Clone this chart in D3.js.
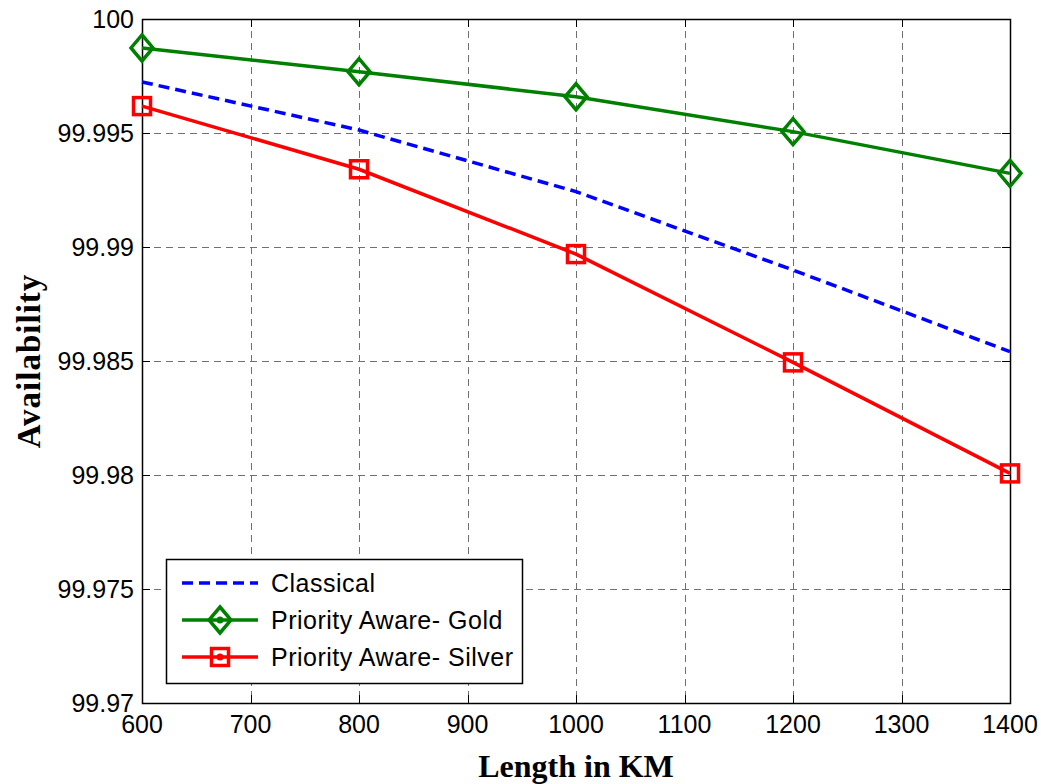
<!DOCTYPE html>
<html lang="en">
<head>
<meta charset="utf-8">
<title>Availability vs Length</title>
<style>
  body { margin: 0; background: #fff; }
  svg { display: block; }
</style>
</head>
<body>
<svg width="1041" height="784"></svg>
<script src="https://cdn.jsdelivr.net/npm/d3@7"></script>
<script>
// data
const lengths = [600, 800, 1000, 1200, 1400];
const classical = [99.99724, 99.99513, 99.99243, 99.98899, 99.98541];
const gold = [99.99873, 99.99769, 99.99659, 99.99506, 99.99323];
const silver = [99.99618, 99.99341, 99.98969, 99.98494, 99.98007];

const xTicks = [600, 700, 800, 900, 1000, 1100, 1200, 1300, 1400];
const yTicks = [99.97, 99.975, 99.98, 99.985, 99.99, 99.995, 100];
const yTickLabels = ["99.97", "99.975", "99.98", "99.985", "99.99", "99.995", "100"];
const seriesNames = ["Classical", "Priority Aware- Gold", "Priority Aware- Silver"];

const svg = d3.select("svg");
const plotL = 142, plotR = 1010, plotT = 19, plotB = 703;
const sans = "Arial, 'Liberation Sans', sans-serif";
const serif = "'Times New Roman', 'Liberation Serif', serif";

const x = d3.scaleLinear().domain([600, 1400]).range([plotL, plotR]);
const y = d3.scaleLinear().domain([99.97, 100]).range([plotB, plotT]);

// grid
const grid = svg.append("g")
    .attr("stroke", "#707070")
    .attr("stroke-width", 1)
    .attr("stroke-dasharray", "7,5");
grid.selectAll("line.vx")
    .data(xTicks.slice(1, -1))
    .join("line")
    .attr("x1", d => Math.round(x(d)) + 0.5).attr("x2", d => Math.round(x(d)) + 0.5)
    .attr("y1", plotT).attr("y2", plotB);
grid.selectAll("line.hy")
    .data(yTicks.slice(1, -1))
    .join("line")
    .attr("y1", d => Math.round(y(d)) + 0.5).attr("y2", d => Math.round(y(d)) + 0.5)
    .attr("x1", plotL).attr("x2", plotR);

// inward ticks on all four sides
const ticks = svg.append("g").attr("stroke", "#000").attr("stroke-width", 1);
xTicks.forEach(t => {
    const px = Math.round(x(t)) + 0.5;
    ticks.append("line").attr("x1", px).attr("x2", px).attr("y1", plotB).attr("y2", plotB - 8);
    ticks.append("line").attr("x1", px).attr("x2", px).attr("y1", plotT).attr("y2", plotT + 8);
});
yTicks.forEach(t => {
    const py = Math.round(y(t)) + 0.5;
    ticks.append("line").attr("y1", py).attr("y2", py).attr("x1", plotL).attr("x2", plotL + 8);
    ticks.append("line").attr("y1", py).attr("y2", py).attr("x1", plotR).attr("x2", plotR - 8);
});

// frame
svg.append("rect")
    .attr("x", plotL + 0.5).attr("y", plotT + 0.5)
    .attr("width", plotR - plotL).attr("height", plotB - plotT)
    .attr("fill", "none").attr("stroke", "#000").attr("stroke-width", 1.5);

// tick labels
svg.append("g").selectAll("text")
    .data(xTicks)
    .join("text")
    .attr("x", d => x(d)).attr("y", 733)
    .attr("text-anchor", "middle")
    .attr("font-family", sans).attr("font-size", 25)
    .text(d => d);
svg.append("g").selectAll("text")
    .data(yTicks)
    .join("text")
    .attr("x", 134).attr("y", d => y(d))
    .attr("dy", "0.35em")
    .attr("text-anchor", "end")
    .attr("font-family", sans).attr("font-size", 25)
    .text((d, i) => yTickLabels[i]);

// axis titles
svg.append("text")
    .attr("x", (plotL + plotR) / 2).attr("y", 777)
    .attr("text-anchor", "middle")
    .attr("font-family", serif).attr("font-weight", "bold").attr("font-size", 32)
    .text("Length in KM");
svg.append("text")
    .attr("transform", `translate(40,${(plotT + plotB) / 2}) rotate(-90)`)
    .attr("text-anchor", "middle")
    .attr("font-family", serif).attr("font-weight", "bold").attr("font-size", 33)
    .attr("letter-spacing", 1)
    .text("Availability");

// lines
const line = d3.line().x((d, i) => x(lengths[i])).y(d => y(d));
svg.append("path").datum(classical)
    .attr("d", line).attr("fill", "none")
    .attr("stroke", "#0000ff").attr("stroke-width", 3.5).attr("stroke-dasharray", "11,6");
svg.append("path").datum(gold)
    .attr("d", line).attr("fill", "none")
    .attr("stroke", "#008000").attr("stroke-width", 3.5);
svg.append("path").datum(silver)
    .attr("d", line).attr("fill", "none")
    .attr("stroke", "#ff0000").attr("stroke-width", 3.5);

function diamond(g, cx, cy) {
    g.append("path")
        .attr("d", `M${cx},${cy - 13}L${cx + 11},${cy}L${cx},${cy + 13}L${cx - 11},${cy}Z`)
        .attr("fill", "none").attr("stroke", "#008000").attr("stroke-width", 3.5);
}
function square(g, cx, cy) {
    g.append("rect")
        .attr("x", cx - 8.5).attr("y", cy - 8.5).attr("width", 17).attr("height", 17)
        .attr("fill", "none").attr("stroke", "#ff0000").attr("stroke-width", 3.5);
}

const markers = svg.append("g");
gold.forEach((v, i) => diamond(markers, x(lengths[i]), y(v)));
silver.forEach((v, i) => square(markers, x(lengths[i]), y(v)));

// legend
const lg = svg.append("g");
lg.append("rect")
    .attr("x", 166.5).attr("y", 559.5).attr("width", 356).attr("height", 124)
    .attr("fill", "#fff").attr("stroke", "#000").attr("stroke-width", 1.5);
const rowY = [583, 620, 657];
const rowColor = ["#0000ff", "#008000", "#ff0000"];
seriesNames.forEach((name, i) => {
    lg.append("line")
        .attr("x1", 182).attr("x2", 258).attr("y1", rowY[i]).attr("y2", rowY[i])
        .attr("stroke", rowColor[i]).attr("stroke-width", 3.5)
        .attr("stroke-dasharray", i === 0 ? "11,6" : null);
    lg.append("text")
        .attr("x", 271).attr("y", rowY[i]).attr("dy", "0.35em")
        .attr("font-family", sans).attr("font-size", 25)
        .attr("letter-spacing", 0.5)
        .text(name);
});
diamond(lg, 220, rowY[1]);
lg.append("circle").attr("cx", 220).attr("cy", rowY[1]).attr("r", 3.5).attr("fill", "#008000");
square(lg, 220, rowY[2]);
lg.append("circle").attr("cx", 220).attr("cy", rowY[2]).attr("r", 3.5).attr("fill", "#ff0000");
</script>
</body>
</html>
